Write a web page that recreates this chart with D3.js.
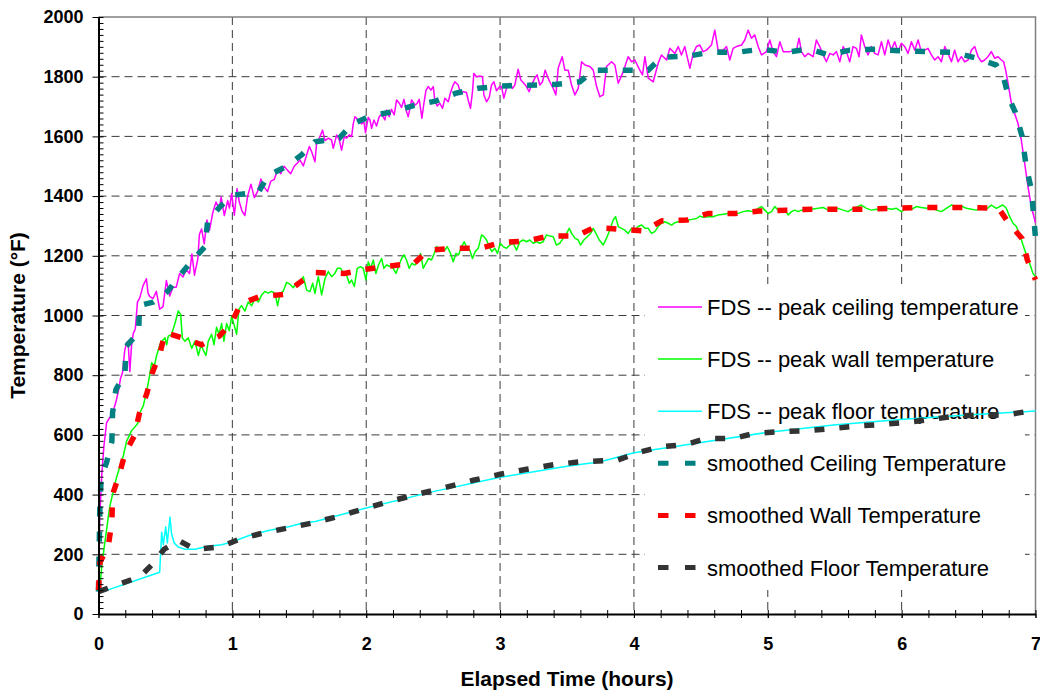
<!DOCTYPE html>
<html>
<head>
<meta charset="utf-8">
<script src="https://cdn.jsdelivr.net/npm/d3@7"></script>
<style>
  body { margin: 0; background: #fff; }
  text { font-family: "Liberation Sans", Arial, sans-serif; }
</style>
</head>
<body>
<div id="chart-area"></div>
<script>
// ---- data (hours, °F) ----
var ceilingFds = [[0,80],[0.01,330],[0.025,470],[0.04,560],[0.06,640],[0.08,655],[0.095,665],[0.11,680],[0.13,710],[0.15,750],[0.165,790],[0.18,810],[0.195,880],[0.21,910],[0.222,905],[0.234,812],[0.247,900],[0.26,940],[0.275,955],[0.291,1045],[0.309,1060],[0.333,1100],[0.358,1123],[0.37,1075],[0.383,1063],[0.408,1057],[0.432,1081],[0.457,1021],[0.482,1030],[0.507,1117],[0.532,1065],[0.556,1095],[0.581,1095],[0.606,1141],[0.631,1129],[0.655,1153],[0.68,1141],[0.698,1206],[0.717,1135],[0.742,1190],[0.754,1272],[0.77,1290],[0.79,1240],[0.81,1320],[0.829,1285],[0.854,1345],[0.878,1380],[0.903,1356],[0.916,1397],[0.94,1335],[0.965,1385],[0.978,1360],[0.995,1409],[1.015,1336],[1.035,1425],[1.052,1380],[1.072,1350],[1.094,1335],[1.114,1400],[1.139,1440],[1.164,1395],[1.188,1415],[1.213,1457],[1.238,1430],[1.263,1415],[1.287,1450],[1.312,1455],[1.337,1487],[1.362,1475],[1.386,1500],[1.411,1487],[1.436,1475],[1.461,1499],[1.486,1511],
  [1.505,1521],[1.53,1501],[1.555,1538],[1.575,1566],[1.592,1549],[1.617,1515],[1.629,1575],[1.654,1599],[1.674,1621],[1.692,1586],[1.717,1594],[1.741,1588],[1.754,1560],[1.779,1605],[1.799,1588],[1.816,1554],[1.836,1599],[1.853,1594],[1.873,1605],[1.891,1599],[1.903,1642],[1.916,1666],[1.941,1655],[1.965,1642],[1.983,1649],[1.995,1612],[2.015,1664],[2.028,1655],[2.04,1627],[2.058,1655],[2.077,1635],[2.097,1666],[2.115,1675],[2.14,1655],[2.152,1688],[2.172,1666],[2.189,1691],[2.209,1672],[2.227,1722],[2.247,1711],[2.264,1697],[2.282,1724],[2.301,1683],[2.314,1666],[2.339,1722],[2.364,1705],[2.381,1711],[2.396,1724],[2.416,1661],[2.431,1711],[2.446,1753],[2.463,1767],[2.483,1755],[2.501,1767],[2.513,1720],[2.53,1702],[2.55,1711],[2.57,1694],[2.588,1728],[2.613,1716],[2.63,1747],[2.65,1772],[2.662,1783],[2.687,1772],[2.705,1744],[2.725,1750],[2.749,1747],[2.762,1722],[2.779,1694],[2.794,1750],[2.804,1811],[2.824,1800],[2.849,1802],[2.869,1800],[2.879,1739],[2.899,1716],[2.919,1731],[2.936,1772],[2.954,1783],[2.973,1753],[2.998,1767],[3.011,1767],[3.028,1728],[3.048,1761],[3.073,1778],[3.093,1761],[3.11,1772],[3.135,1825],[3.155,1789],[3.178,1778],[3.197,1767],[3.217,1750],[3.235,1772],[3.26,1795],[3.277,1806],[3.297,1772],[3.317,1783],[3.337,1822],[3.359,1795],[3.377,1778],[3.397,1761],[3.417,1739],[3.434,1828],[3.464,1867],[3.484,1822],
  [3.509,1822],[3.534,1772],[3.559,1739],[3.584,1761],[3.609,1850],[3.634,1839],[3.671,1834],[3.696,1822],[3.721,1767],[3.746,1733],[3.771,1739],[3.795,1834],[3.833,1850],[3.858,1839],[3.883,1778],[3.92,1817],[3.957,1867],[3.982,1850],[4.007,1856],[4.044,1822],[4.064,1806],[4.082,1867],[4.107,1795],[4.144,1783],[4.181,1845],[4.206,1873],[4.244,1856],[4.268,1895],[4.306,1878],[4.331,1901],[4.355,1873],[4.38,1901],[4.418,1828],[4.443,1878],[4.467,1901],[4.492,1906],[4.517,1884],[4.542,1889],[4.579,1906],[4.604,1956],[4.629,1889],[4.667,1889],[4.692,1901],[4.716,1856],[4.741,1895],[4.766,1901],[4.804,1906],[4.828,1923],[4.853,1956],[4.878,1929],[4.903,1940],[4.928,1901],[4.953,1873],[4.99,1884],[5.015,1923],[5.04,1884],[5.065,1867],[5.09,1917],[5.115,1884],[5.164,1884],[5.214,1889],[5.234,1929],[5.251,1884],[5.276,1867],[5.301,1878],
  [5.339,1867],[5.363,1923],[5.388,1901],[5.413,1873],[5.438,1850],[5.463,1878],[5.488,1873],[5.513,1884],[5.538,1850],[5.563,1901],[5.587,1884],[5.612,1850],[5.637,1901],[5.662,1895],[5.682,1867],[5.699,1940],[5.724,1901],[5.749,1873],[5.774,1901],[5.799,1878],[5.824,1873],[5.849,1917],[5.874,1873],[5.899,1923],[5.923,1889],[5.948,1917],[5.973,1884],[5.998,1912],[6.023,1901],[6.048,1878],[6.073,1917],[6.098,1889],[6.123,1923],[6.147,1884],[6.172,1889],[6.197,1895],[6.222,1873],[6.247,1856],[6.272,1867],[6.297,1850],[6.322,1901],[6.347,1878],[6.372,1850],[6.396,1889],[6.421,1850],[6.446,1867],[6.471,1850],[6.496,1856],[6.521,1889],[6.546,1901],[6.571,1867],[6.596,1850],[6.62,1856],[6.645,1867],[6.67,1884],[6.695,1862],[6.72,1867],[6.745,1856],[6.762,1850],[6.777,1822],[6.795,1778],[6.82,1711],[6.844,1677],[6.869,1644],[6.894,1588],[6.919,1510],[6.944,1432],[6.969,1365],[7,1310]];

var wallFds = [[0,80],[0.011,89],[0.024,161],[0.049,244],[0.074,328],[0.086,364],[0.111,412],[0.136,460],[0.161,495],[0.186,531],[0.21,579],[0.223,591],[0.248,615],[0.273,627],[0.293,639],[0.31,675],[0.335,698],[0.36,746],[0.38,794],[0.397,842],[0.417,830],[0.434,866],[0.459,902],[0.472,914],[0.497,925],[0.509,902],[0.521,931],[0.546,937],[0.571,973],[0.596,1015],[0.614,1003],[0.626,925],[0.646,914],[0.671,925],[0.696,890],[0.721,914],[0.746,866],[0.766,902],[0.783,884],[0.803,866],[0.82,914],[0.845,937],[0.863,902],[0.882,961],[0.9,937],[0.92,973],[0.937,914],[0.957,973],[0.977,949],[0.995,997],[1.014,967],[1.032,937],[1.049,1021],[1.069,1033],[1.094,1015],[1.119,1045],[1.144,1033],[1.169,1057],[1.194,1045],[1.219,1069],[1.244,1081],[1.268,1075],[1.293,1081],[1.318,1075],[1.338,1033],[1.356,1075],[1.38,1081],[1.405,1111],[1.43,1105],[1.455,1093],[1.48,1111],
  [1.505,1108],[1.53,1130],[1.555,1085],[1.58,1080],[1.6,1108],[1.617,1074],[1.642,1130],[1.667,1069],[1.692,1124],[1.717,1147],[1.741,1130],[1.766,1141],[1.784,1158],[1.809,1158],[1.829,1141],[1.853,1136],[1.873,1108],[1.891,1119],[1.911,1097],[1.933,1158],[1.958,1164],[1.978,1158],[1.998,1119],[2.015,1180],[2.033,1158],[2.053,1186],[2.072,1141],[2.092,1169],[2.115,1191],[2.132,1158],[2.152,1169],[2.177,1164],[2.202,1158],[2.222,1141],[2.242,1164],[2.264,1191],[2.282,1203],[2.301,1186],[2.321,1158],[2.341,1175],[2.364,1169],[2.389,1186],[2.406,1208],[2.426,1158],[2.446,1175],[2.466,1191],[2.488,1186],[2.508,1208],[2.525,1231],[2.545,1219],[2.565,1225],[2.588,1219],[2.605,1231],[2.63,1208],[2.65,1180],[2.67,1208],[2.69,1203],[2.712,1231],[2.732,1247],[2.754,1225],[2.774,1219],[2.794,1191],[2.814,1214],[2.837,1225],[2.862,1270],[2.879,1264],[2.899,1253],[2.919,1231],[2.939,1214],[2.961,1225],[2.981,1208],[3.001,1242],[3.023,1231],[3.048,1225],[3.073,1236],[3.098,1242],[3.123,1219],[3.148,1247],[3.173,1253],[3.197,1247],[3.222,1253],[3.247,1242],[3.272,1247],[3.297,1242],[3.322,1247],[3.347,1270],[3.372,1266],[3.397,1264],[3.421,1236],[3.446,1242],
  [3.472,1259],[3.497,1275],[3.517,1292],[3.534,1275],[3.559,1259],[3.584,1253],[3.601,1236],[3.626,1253],[3.651,1264],[3.676,1275],[3.696,1292],[3.716,1275],[3.741,1253],[3.771,1236],[3.795,1259],[3.82,1286],[3.845,1320],[3.863,1331],[3.883,1298],[3.907,1292],[3.932,1286],[3.957,1275],[3.982,1292],[4.007,1286],[4.032,1298],[4.057,1303],[4.082,1292],[4.107,1292],[4.131,1275],[4.156,1281],[4.181,1298],[4.206,1309],[4.231,1314],[4.256,1309],[4.281,1303],[4.306,1311],[4.331,1314],[4.355,1317],[4.393,1320],[4.43,1322],[4.468,1325],[4.492,1333],[4.517,1329],[4.555,1331],[4.592,1331],[4.629,1337],[4.667,1339],[4.704,1342],[4.741,1345],[4.779,1342],[4.816,1348],[4.853,1351],[4.891,1348],[4.928,1359],[4.953,1365],[4.978,1353],[5.003,1342],[5.028,1348],[5.052,1365],[5.077,1353],[5.102,1348],[5.127,1353],[5.152,1337],[5.177,1348],[5.202,1353],[5.227,1348],[5.252,1353],[5.289,1353],[5.326,1356],[5.376,1359],
  [5.413,1362],[5.451,1353],[5.488,1356],[5.525,1359],[5.563,1353],[5.6,1348],[5.637,1359],[5.675,1365],[5.699,1370],[5.737,1359],[5.774,1353],[5.811,1356],[5.849,1353],[5.886,1359],[5.923,1356],[5.961,1359],[5.998,1348],[6.035,1359],[6.073,1356],[6.11,1365],[6.147,1362],[6.185,1359],[6.222,1365],[6.259,1353],[6.297,1348],[6.334,1359],[6.371,1370],[6.409,1365],[6.446,1367],[6.484,1359],[6.521,1356],[6.558,1353],[6.596,1359],[6.633,1356],[6.67,1370],[6.707,1359],[6.732,1365],[6.757,1370],[6.782,1359],[6.807,1331],[6.832,1309],[6.857,1298],[6.882,1270],[6.907,1236],[6.932,1203],[6.956,1175],[6.981,1141],[7,1130]];

var floorFds = [[0,70],[0.457,140],[0.472,274],[0.484,232],[0.502,292],[0.514,238],[0.534,325],[0.546,268],[0.566,238],[0.596,224],[0.646,217],[0.721,217],[0.82,227],[0.92,232],[1.0,242],[1.12,262],[1.27,280],[1.42,292],[1.52,304],[1.62,310],[2.0,355],[2.5,410],[3.0,458],[3.5,495],[3.75,510],[4.0,540],[4.49,574],[4.99,608],[5.49,633],[5.99,652],[6.49,667],[7,680]];

var ceilingSmooth = [[0,75],[0.01,350],[0.02,460],[0.06,507],[0.1,579],[0.105,674],[0.13,752],[0.198,806],[0.205,896],[0.3,943],[0.306,1033],[0.41,1045],[0.517,1081],[0.609,1135],[0.696,1182],[0.795,1230],[0.815,1314],[0.903,1362],[1.0,1403],[1.194,1413],[1.268,1469],[1.4,1499],[1.517,1538],[1.617,1582],[1.799,1594],[1.891,1640],[2.028,1668],[2.202,1683],[2.359,1704],[2.525,1719],[2.665,1744],[2.837,1761],[3.011,1769],[3.21,1771],[3.409,1774],[3.596,1783],[3.703,1822],[3.902,1822],[4.107,1822],[4.206,1865],[4.405,1869],[4.572,1882],[4.771,1882],[4.953,1892],[5.135,1882],[5.314,1893],[5.451,1873],[5.612,1889],[5.811,1892],[6.006,1886],[6.205,1884],[6.389,1882],[6.558,1862],[6.707,1839],[6.76,1800],[6.8,1730],[6.85,1680],[6.9,1600],[6.93,1500],[6.97,1420],[7,1260]];

var wallSmooth = [[0,80],[0.011,173],[0.074,230],[0.1,310],[0.105,400],[0.153,465],[0.198,537],[0.268,597],[0.305,671],[0.36,737],[0.402,808],[0.459,872],[0.497,943],[0.628,925],[0.771,902],[0.903,931],[0.995,976],[1.062,1039],[1.201,1063],[1.388,1071],[1.505,1111],[1.605,1144],[1.836,1141],[1.998,1155],[2.177,1166],[2.359,1175],[2.463,1219],[2.65,1225],[2.849,1225],[3.006,1244],[3.197,1250],[3.367,1266],[3.571,1266],[3.703,1295],[3.89,1289],[4.077,1283],[4.206,1317],[4.398,1320],[4.555,1342],[4.759,1342],[4.94,1350],[5.14,1353],[5.331,1356],[5.53,1356],[5.729,1356],[5.931,1359],[6.123,1362],[6.322,1362],[6.521,1362],[6.725,1359],[6.8,1309],[6.899,1258],[6.939,1186],[7,1120]];

var floorSmooth = [[0,75],[0.15,99],[0.31,125],[0.41,170],[0.49,217],[0.6,246],[0.72,217],[0.91,225],[1.05,250],[1.2,268],[1.4,287],[1.6,305],[1.8,328],[2.0,355],[2.2,380],[2.4,403],[2.6,425],[2.8,448],[3.0,468],[3.2,485],[3.4,500],[3.6,510],[3.88,516],[4.04,542],[4.2,560],[4.39,568],[4.54,588],[4.74,588],[4.9,605],[5.1,611],[5.29,614],[5.48,621],[5.67,630],[5.85,635],[6.04,642],[6.22,652],[6.41,663],[6.6,667],[6.78,667],[6.96,680],[7,682]];

var yTicks = [0, 200, 400, 600, 800, 1000, 1200, 1400, 1600, 1800, 2000];
var xTicks = [0, 1, 2, 3, 4, 5, 6, 7];

var series = [
  { name: "FDS -- peak ceiling temperature", data: ceilingFds, color: "#ff00ff", smooth: false },
  { name: "FDS -- peak wall temperature", data: wallFds, color: "#00ff00", smooth: false },
  { name: "FDS -- peak floor temperature", data: floorFds, color: "#00ffff", smooth: false },
  { name: "smoothed Ceiling Temperature", data: ceilingSmooth, color: "#008080", smooth: true },
  { name: "smoothed Wall Temperature", data: wallSmooth, color: "#ff0000", smooth: true },
  { name: "smoothed Floor Temperature", data: floorSmooth, color: "#333333", smooth: true }
];

// set the dimensions and margins of the graph
var margin = { top: 17, right: 4.5, bottom: 80, left: 98.5 },
  width = 1040 - margin.left - margin.right,
  height = 694 - margin.top - margin.bottom;

var svg = d3.select("#chart-area")
  .append("svg")
  .attr("width", 1040)
  .attr("height", 694)
  .append("g")
  .attr("transform", "translate(" + margin.left + "," + margin.top + ")");

var x = d3.scaleLinear().domain([0, 7]).range([0, width]);
var y = d3.scaleLinear().domain([0, 2000]).range([height, 0]);

// dashed grid
svg.append("g")
  .selectAll("line")
  .data(yTicks.filter(function(d) { return d > 0 && d < 2000; }))
  .enter().append("line")
  .attr("x1", 0).attr("x2", width)
  .attr("y1", function(d) { return y(d); })
  .attr("y2", function(d) { return y(d); })
  .attr("stroke", "#3a3a3a")
  .attr("stroke-dasharray", "8,5");

svg.append("g")
  .selectAll("line")
  .data(xTicks.filter(function(d) { return d > 0 && d < 7; }))
  .enter().append("line")
  .attr("x1", function(d) { return x(d); })
  .attr("x2", function(d) { return x(d); })
  .attr("y1", 0).attr("y2", height)
  .attr("stroke", "#3a3a3a")
  .attr("stroke-dasharray", "8,5");

// plot border (top + right)
svg.append("path")
  .attr("d", "M0,0H" + width + "V" + height)
  .attr("fill", "none")
  .attr("stroke", "#808080")
  .attr("stroke-width", 1.5);

// legend box sits over the grid, under the data
var legend = svg.append("g").attr("transform", "translate(" + (645 - margin.left) + "," + (284 - margin.top) + ")");
legend.append("rect")
  .attr("width", 380).attr("height", 306)
  .attr("fill", "#fff");

var rows = legend.selectAll("g.row")
  .data(series)
  .enter().append("g")
  .attr("class", "row")
  .attr("transform", function(d, i) { return "translate(0," + (23 + i * 52.1) + ")"; });

rows.append("path")
  .attr("d", function(d) { return d.smooth ? "M13,0H51" : "M13,0H57"; })
  .attr("stroke", function(d) { return d.color; })
  .attr("stroke-width", function(d) { return d.smooth ? 5 : 1.5; })
  .attr("stroke-dasharray", function(d) { return d.smooth ? "10.5,16.5" : null; })
  .attr("fill", "none");

rows.append("text")
  .attr("x", 62)
  .attr("y", 8)
  .attr("font-size", "22px")
  .attr("fill", "#000")
  .text(function(d) { return d.name; });

// lines
var line = d3.line()
  .x(function(d) { return x(d[0]); })
  .y(function(d) { return y(d[1]); });

svg.append("g")
  .selectAll("path")
  .data(series.filter(function(d) { return !d.smooth; }))
  .enter().append("path")
  .attr("d", function(d) { return line(d.data); })
  .attr("fill", "none")
  .attr("stroke", function(d) { return d.color; })
  .attr("stroke-width", 1.5)
  .attr("stroke-linejoin", "round");

svg.append("g")
  .selectAll("path")
  .data(series.filter(function(d) { return d.smooth; }))
  .enter().append("path")
  .attr("d", function(d) { return line(d.data); })
  .attr("fill", "none")
  .attr("stroke", function(d) { return d.color; })
  .attr("stroke-width", 5.5)
  .attr("stroke-dasharray", "10,15");

// Y axis: major ticks crossing, minor ticks inside
var yAxis = svg.append("g");
yAxis.append("g")
  .call(d3.axisRight(y).tickValues(d3.range(0, 2001, 20)).tickSize(5).tickFormat(""))
  .call(function(g) { g.select(".domain").remove(); });
yAxis.append("g")
  .call(d3.axisLeft(y).tickValues(yTicks).tickSize(6).tickPadding(9).tickSizeOuter(0).tickFormat(d3.format("d")))
  .call(function(g) {
    g.selectAll("text").attr("font-size", "18px").attr("font-weight", "bold").attr("fill", "#000")
      .style("font-family", "'Liberation Sans', Arial, sans-serif");
  });
yAxis.selectAll("line").attr("stroke", "#000");
yAxis.selectAll(".domain").attr("stroke", "#000").attr("stroke-width", 2);

// X axis
var xAxis = svg.append("g").attr("transform", "translate(0," + height + ")");
xAxis.append("g")
  .call(d3.axisTop(x).tickValues(d3.range(0, 7.01, 0.2)).tickSize(4).tickFormat(""))
  .call(function(g) { g.select(".domain").remove(); });
xAxis.append("g")
  .call(d3.axisBottom(x).tickValues(d3.range(0, 7.01, 0.2)).tickSize(4).tickFormat(""))
  .call(function(g) { g.select(".domain").remove(); });
xAxis.append("g")
  .call(d3.axisBottom(x).tickValues(xTicks).tickSize(4).tickPadding(19).tickSizeOuter(0).tickFormat(d3.format("d")))
  .call(function(g) {
    g.selectAll("text").attr("font-size", "18px").attr("font-weight", "bold").attr("fill", "#000")
      .style("font-family", "'Liberation Sans', Arial, sans-serif");
  });
xAxis.selectAll("line").attr("stroke", "#000");
xAxis.selectAll(".domain").attr("stroke", "#000").attr("stroke-width", 2);

// axis titles
svg.append("text")
  .attr("x", width / 2)
  .attr("y", height + 72)
  .attr("text-anchor", "middle")
  .attr("font-size", "21px")
  .attr("font-weight", "bold")
  .text("Elapsed Time (hours)");

svg.append("text")
  .attr("transform", "rotate(-90)")
  .attr("x", -height / 2)
  .attr("y", -74)
  .attr("text-anchor", "middle")
  .attr("font-size", "21px")
  .attr("font-weight", "bold")
  .text("Temperature (°F)");
</script>
</body>
</html>
